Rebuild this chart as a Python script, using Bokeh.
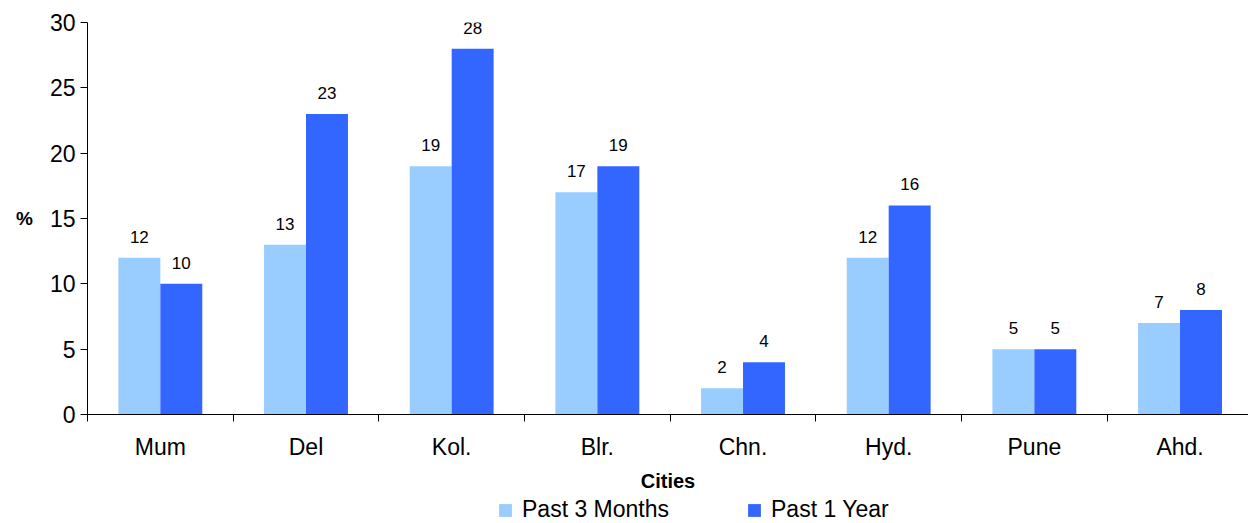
import numpy as np
from bokeh.plotting import figure
from bokeh.layouts import column
from bokeh.core.properties import value
from bokeh.models import (ColumnDataSource, Range1d, FixedTicker, Legend, LegendItem, LabelSet)
from bokeh.embed import file_html
from bokeh.resources import INLINE

cities = ["Mum", "Del", "Kol.", "Blr.", "Chn.", "Hyd.", "Pune", "Ahd."]
past_3_months = [12, 13, 19, 17, 2, 12, 5, 7]
past_1_year = [10, 23, 28, 19, 4, 16, 5, 8]
series_names = ["Past 3 Months", "Past 1 Year"]
y_ticks = [0, 5, 10, 15, 20, 25, 30]

LIGHT = "#99CCFF"
DARK = "#3366FF"
FONT = "Liberation Sans"

centers = np.arange(len(cities)) + 0.5
bw = 0.288

src = ColumnDataSource(dict(
    x1=centers - bw / 2, x2=centers + bw / 2,
    v1=past_3_months, v2=past_1_year,
    t1=[str(v) for v in past_3_months], t2=[str(v) for v in past_1_year],
))

p = figure(width=1248, height=495, output_backend="svg", toolbar_location=None,
           x_range=Range1d(0, 7.97), y_range=Range1d(0, 30),
           min_border_left=87, min_border_top=22, min_border_right=0,
           min_border_bottom=81,
           outline_line_color=None)
p.grid.grid_line_color = None

r1 = p.vbar(x="x1", top="v1", width=bw, source=src, fill_color=LIGHT, line_color=None)
r2 = p.vbar(x="x2", top="v2", width=bw, source=src, fill_color=DARK, line_color=None)

for xcol, ycol, tcol in (("x1", "v1", "t1"), ("x2", "v2", "t2")):
    p.add_layout(LabelSet(x=xcol, y=ycol, text=tcol, source=src, y_offset=15,
                          text_align="center", text_baseline="bottom",
                          text_font=value(FONT), text_font_size="17px", text_color="black"))

# x axis
p.xaxis.ticker = FixedTicker(ticks=list(centers), minor_ticks=list(np.arange(len(cities) + 1)))
p.xaxis.major_label_overrides = {float(c): n for c, n in zip(centers, cities)}
p.xaxis.major_tick_out = 0
p.xaxis.major_tick_in = 0
p.xaxis.minor_tick_out = 7
p.xaxis.minor_tick_in = 0
p.xaxis.major_label_text_font = FONT
p.xaxis.major_label_text_font_size = "23px"
p.xaxis.major_label_text_color = "black"
p.xaxis.major_label_standoff = 12
p.xaxis.axis_label = "Cities"
p.xaxis.axis_label_text_font = FONT
p.xaxis.axis_label_text_font_size = "20px"
p.xaxis.axis_label_text_font_style = "bold"
p.xaxis.axis_label_text_color = "black"
p.xaxis.axis_label_standoff = 7
p.xaxis.axis_line_color = "black"

# y axis
p.yaxis.ticker = FixedTicker(ticks=y_ticks)
p.yaxis.major_tick_out = 7
p.yaxis.major_tick_in = 0
p.yaxis.minor_tick_out = 0
p.yaxis.major_label_text_font = FONT
p.yaxis.major_label_text_font_size = "23px"
p.yaxis.major_label_text_color = "black"
p.yaxis.major_label_standoff = 5
p.yaxis.axis_label = "%"
p.yaxis.axis_label_orientation = "horizontal"
p.yaxis.axis_label_text_font = FONT
p.yaxis.axis_label_text_font_size = "19px"
p.yaxis.axis_label_text_font_style = "bold"
p.yaxis.axis_label_text_color = "black"
p.yaxis.axis_label_standoff = 14
p.yaxis.axis_line_color = "black"

# legend strip (swatch renderers sit outside the visible range)
lg = figure(width=1248, height=28, output_backend="svg", toolbar_location=None,
            x_axis_location=None, y_axis_location=None, min_border=0,
            outline_line_color=None, x_range=Range1d(0, 1), y_range=Range1d(0, 1))
lg.grid.grid_line_color = None
e1 = lg.vbar(x=[5], top=[1], width=0.1, fill_color=LIGHT, line_color=None)
e2 = lg.vbar(x=[5], top=[1], width=0.1, fill_color=DARK, line_color=None)
legend = Legend(items=[LegendItem(label=series_names[0], renderers=[e1]),
                       LegendItem(label=series_names[1], renderers=[e2])],
                orientation="horizontal", location=(410, 0),
                label_text_font=FONT, label_text_font_size="23px",
                label_text_color="black",
                glyph_width=16, glyph_height=16, spacing=77, padding=0,
                margin=0, label_standoff=9, border_line_color=None,
                background_fill_alpha=0)
lg.add_layout(legend)

open("out.html", "w").write(file_html(column(p, lg, spacing=0), INLINE))
